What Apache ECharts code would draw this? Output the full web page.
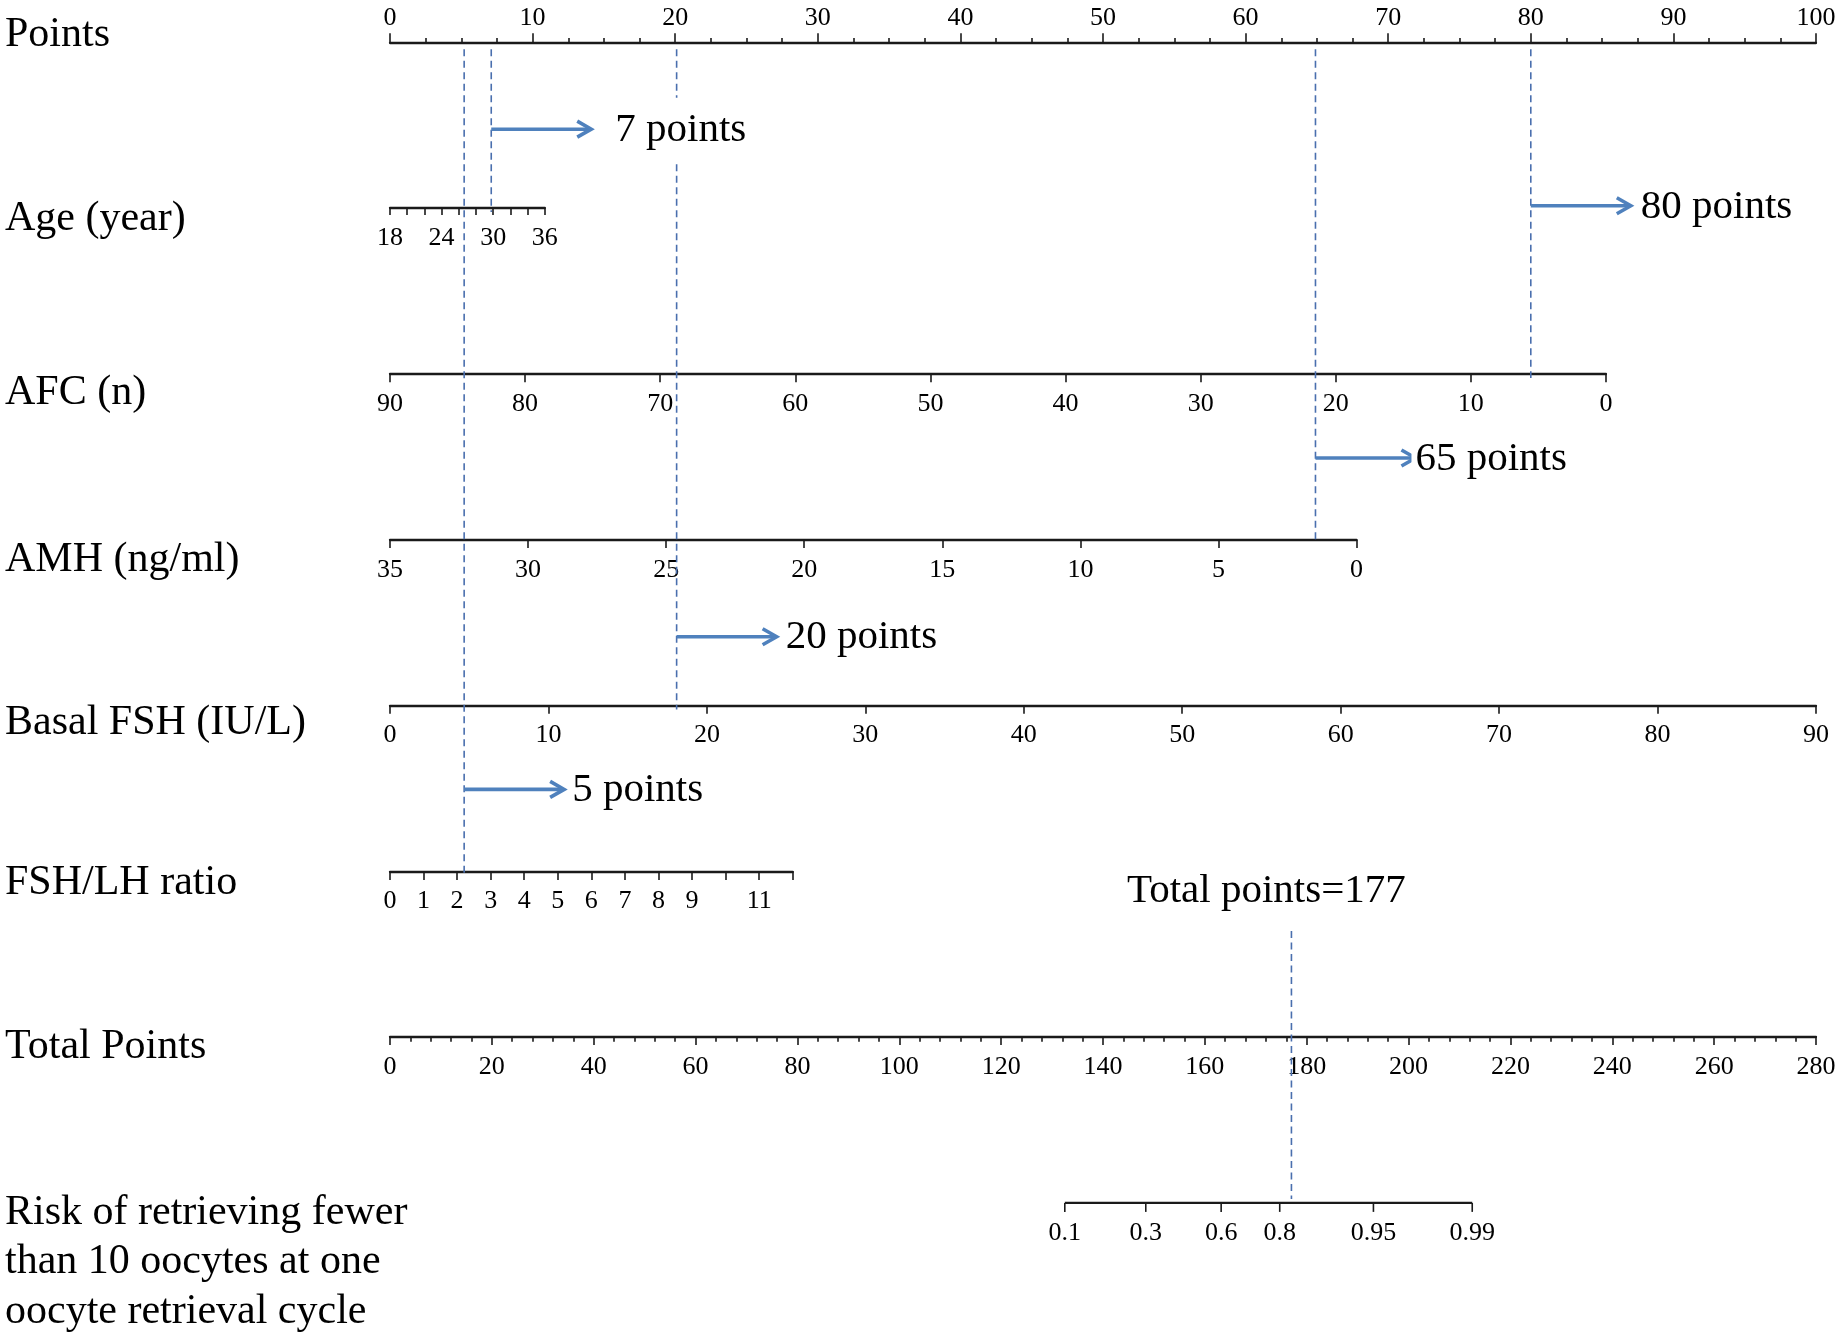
<!DOCTYPE html>
<html>
<head>
<meta charset="utf-8">
<script src="https://cdn.jsdelivr.net/npm/echarts@6/dist/echarts.min.js"></script>
<style>
html,body{margin:0;padding:0;background:#fff;}
#chart{width:1842px;height:1341px;}
</style>
</head>
<body>
<div id="chart"></div>
<script>
// ================= DATA =================
const rowNames = [
  'Points',
  'Age (year)',
  'AFC (n)',
  'AMH (ng/ml)',
  'Basal FSH (IU/L)',
  'FSH/LH ratio',
  'Total Points',
  'Risk of retrieving fewer\nthan 10 oocytes at one\noocyte retrieval cycle'
];
const pointsRange = [0, 100];
const ageRange = [18, 36];          // 18 -> 0 points
const agePointsAtMax = 10.86;       // 36 years
const afcRange = [0, 90];           // 90 -> 0 points (reversed)
const afcPointsAtZero = 85.27;      // AFC 0
const amhRange = [0, 35];           // 35 -> 0 points (reversed)
const amhPointsAtZero = 67.78;      // AMH 0
const fshRange = [0, 90];           // 0 -> 0 points
const fshPointsAtMax = 100;         // FSH 90
const ratioRange = [0, 12];         // 0 -> 0 points
const ratioPointsAtMax = 28.24;     // ratio 12
const totalRange = [0, 280];
const ageLabelTicks = [18, 24, 30, 36];
const ratioLabelTicks = [0, 1, 2, 3, 4, 5, 6, 7, 8, 9, 11];
const riskTicks = [0.1, 0.3, 0.6, 0.8, 0.95, 0.99];
const riskTickTotalPoints = [132.5, 148.4, 163.2, 174.7, 193.1, 212.5];
const contribPoints = [7.1, 80.0, 64.9, 20.1, 5.2];
const contribLabels = ['7 points', '80 points', '65 points', '20 points', '5 points'];
const contribRow = [1, 2, 3, 4, 5];   // variable row each guide runs down to
const totalScore = 177;
const totalLabel = 'Total points=177';

// ================= LAYOUT / STYLE =================
const SERIF = '"Liberation Serif", "Times New Roman", serif';
const axisLeft = 390, axisWidth = 1426;   // 0..100 points span
const rowTop = 42.3, rowStep = 165.8, nRows = 7;
const rowY = k => rowTop + k * rowStep;
const labelY = [34.7, 219, 393, 560, 722.5, 882.5, 1047, 1262];
const arrowRow = [0.524, 0.986, 2.507, 3.585, 4.506];
const arrowLenPx = 100;
const labelGapPx = [24, 10, 0, 9, 8];
const totalLabelRow = 5.12, totalGuideStartRow = 5.36, totalLabelShiftPx = -25;
const dashColor = '#4a6fae', arrowColor = '#4f81bd', inkColor = '#1a1a1a';
const lineStyleAxis = {color: inkColor, width: 2.3};
const tickStyle = {color: inkColor, width: 1.6};
const tickFont = {fontFamily: SERIF, fontSize: 26, color: '#000'};
const bigFont = '41px ' + SERIF;
const pxOf = pts => pts / 100 * axisWidth;

// ================= GRIDS & AXES =================
const grids = [];
const xAxes = [];
const yAxes = [];
function addRowAxis(k, widthPx, ax, isTop) {
  const gi = grids.length;
  grids.push({left: axisLeft, width: widthPx, top: isTop ? rowY(k) : rowY(k) - 10, height: 10, outerBoundsMode: 'none', containLabel: false});
  xAxes.push(Object.assign({
    gridIndex: gi, type: 'value', position: isTop ? 'top' : 'bottom',
    axisLine: {show: true, onZero: false, lineStyle: lineStyleAxis},
    axisTick: {show: true, inside: false, length: 8.3, lineStyle: tickStyle},
    axisLabel: Object.assign({show: true, margin: 17}, tickFont),
    splitLine: {show: false}
  }, ax));
  yAxes.push({gridIndex: gi, type: 'value', min: 0, max: 1, show: false});
  return gi;
}
// 0 Points
addRowAxis(0, pxOf(100), {min: pointsRange[0], max: pointsRange[1], interval: 10,
  axisTick: {show: true, length: 9, lineStyle: tickStyle},
  minorTick: {show: true, splitNumber: 4, length: 4.3, lineStyle: tickStyle},
  axisLabel: Object.assign({show: true, margin: 11}, tickFont)}, true);
// 1 Age
addRowAxis(1, pxOf(agePointsAtMax), {min: ageRange[0], max: ageRange[1], interval: 2,
  axisTick: {show: true, length: 7, lineStyle: tickStyle},
  axisLabel: Object.assign({show: true, margin: 17, formatter: v => ageLabelTicks.includes(v) ? String(v) : ''}, tickFont)});
// 2 AFC (reversed)
addRowAxis(2, pxOf(afcPointsAtZero), {min: afcRange[0], max: afcRange[1], interval: 10, inverse: true});
// 3 AMH (reversed)
addRowAxis(3, pxOf(amhPointsAtZero), {min: amhRange[0], max: amhRange[1], interval: 5, inverse: true});
// 4 Basal FSH
addRowAxis(4, pxOf(fshPointsAtMax), {min: fshRange[0], max: fshRange[1], interval: 10});
// 5 FSH/LH ratio
addRowAxis(5, pxOf(ratioPointsAtMax), {min: ratioRange[0], max: ratioRange[1], interval: 1,
  axisTick: {show: true, length: 8.7, lineStyle: tickStyle},
  axisLabel: Object.assign({show: true, margin: 17, formatter: v => ratioLabelTicks.includes(v) ? String(v) : ''}, tickFont)});
// 6 Total points
addRowAxis(6, pxOf(100), {min: totalRange[0], max: totalRange[1], interval: 20,
  axisTick: {show: true, length: 8, lineStyle: tickStyle},
  minorTick: {show: true, splitNumber: 5, length: 4.7, lineStyle: tickStyle}});
// 7 Risk row: total-points scale, drawn by custom series
const riskGrid = addRowAxis(7, pxOf(100), {min: totalRange[0], max: totalRange[1], show: false});
// 8 overlay grid spanning all rows
const ovGrid = grids.length;
grids.push({left: axisLeft, width: axisWidth, top: rowTop, height: rowStep * nRows, outerBoundsMode: 'none', containLabel: false});
const ovX = xAxes.length;
xAxes.push({gridIndex: ovGrid, type: 'value', min: pointsRange[0], max: pointsRange[1], show: false, splitLine: {show: false}});
const ovXTotal = xAxes.length;
xAxes.push({gridIndex: ovGrid, type: 'value', min: totalRange[0], max: totalRange[1], show: false, splitLine: {show: false}});
const ovY = yAxes.length;
yAxes.push({gridIndex: ovGrid, type: 'value', min: 0, max: nRows, inverse: true, show: false});

// ================= SERIES =================
const series = [];
// risk axis baseline
series.push({
  type: 'line', xAxisIndex: riskGrid, yAxisIndex: riskGrid, symbol: 'none', silent: true,
  data: [[riskTickTotalPoints[0], 0], [riskTickTotalPoints[riskTickTotalPoints.length - 1], 0]],
  lineStyle: {color: inkColor, width: 2.3}, z: 3
});
// risk ticks + labels
series.push({
  type: 'custom', xAxisIndex: riskGrid, yAxisIndex: riskGrid, clip: false, silent: true, z: 3,
  data: riskTickTotalPoints.map((p, i) => [p, 0, i]),
  renderItem: (params, api) => {
    const c = api.coord([api.value(0), 0]);
    const i = api.value(2);
    return {type: 'group', children: [
      {type: 'line', shape: {x1: c[0], y1: c[1], x2: c[0], y2: c[1] + 9}, style: {stroke: inkColor, lineWidth: 1.6}},
      {type: 'text', x: c[0], y: c[1] + 30, style: {text: String(riskTicks[i]), fill: '#000', fontSize: 26, fontFamily: SERIF, align: 'center', verticalAlign: 'middle'}}
    ]};
  }
});
// dashed guide lines from the Points axis down to each variable
series.push({
  type: 'custom', xAxisIndex: ovX, yAxisIndex: ovY, clip: false, silent: true, z: 4,
  data: contribPoints.map((p, i) => [p, contribRow[i], i]),
  renderItem: (params, api) => {
    const s = api.coord([api.value(0), 0]);
    const e = api.coord([api.value(0), api.value(1)]);
    return {type: 'line', shape: {x1: s[0], y1: s[1] + 7, x2: e[0], y2: e[1] + 4},
      style: {stroke: dashColor, lineWidth: 1.6, lineDash: [7, 4.5]}};
  }
});
// dashed guide for the total score down to the risk axis
series.push({
  type: 'custom', xAxisIndex: ovXTotal, yAxisIndex: ovY, clip: false, silent: true, z: 4,
  data: [[totalScore, nRows]],
  renderItem: (params, api) => {
    const s = api.coord([api.value(0), totalGuideStartRow]);
    const e = api.coord([api.value(0), api.value(1)]);
    const t = api.coord([api.value(0), totalLabelRow]);
    return {type: 'group', children: [
      {type: 'line', shape: {x1: s[0], y1: s[1], x2: e[0], y2: e[1] - 4},
        style: {stroke: dashColor, lineWidth: 1.6, lineDash: [7, 4.5]}},
      {type: 'text', x: t[0] + totalLabelShiftPx, y: t[1], style: {text: totalLabel, fill: '#000', font: bigFont, align: 'center', verticalAlign: 'middle'}}
    ]};
  }
});
// arrows with point labels
series.push({
  type: 'custom', xAxisIndex: ovX, yAxisIndex: ovY, clip: false, silent: true, z: 6,
  data: contribPoints.map((p, i) => [p, arrowRow[i], i]),
  renderItem: (params, api) => {
    const i = api.value(2);
    const c = api.coord([api.value(0), api.value(1)]);
    const tipX = c[0] + arrowLenPx, y = c[1];
    return {type: 'group', children: [
      {type: 'line', shape: {x1: c[0], y1: y, x2: tipX - 2, y2: y}, style: {stroke: arrowColor, lineWidth: 3.6}},
      {type: 'polyline', shape: {points: [[tipX - 14, y - 8], [tipX, y], [tipX - 14, y + 8]]},
        style: {stroke: arrowColor, lineWidth: 3.6, fill: null, lineJoin: 'miter'}},
      {type: 'text', x: tipX + labelGapPx[i] - 4, y: y + 1,
        style: {text: contribLabels[i], fill: '#000', font: bigFont, align: 'left', verticalAlign: 'middle',
          backgroundColor: '#fff', padding: [12, 4, 12, 4]}}
    ]};
  }
});

// ================= ROW NAMES =================
const graphic = rowNames.map((t, i) => ({
  type: 'text', x: 5, y: labelY[i], silent: true,
  style: {text: t, fill: '#000', font: '42px ' + SERIF, align: 'left', verticalAlign: 'middle', lineHeight: 49.5}
}));

const chart = echarts.init(document.getElementById('chart'), null, {renderer: 'canvas'});
chart.setOption({
  backgroundColor: '#fff',
  animation: false,
  grid: grids,
  xAxis: xAxes,
  yAxis: yAxes,
  series: series,
  graphic: graphic
});
</script>
</body>
</html>
